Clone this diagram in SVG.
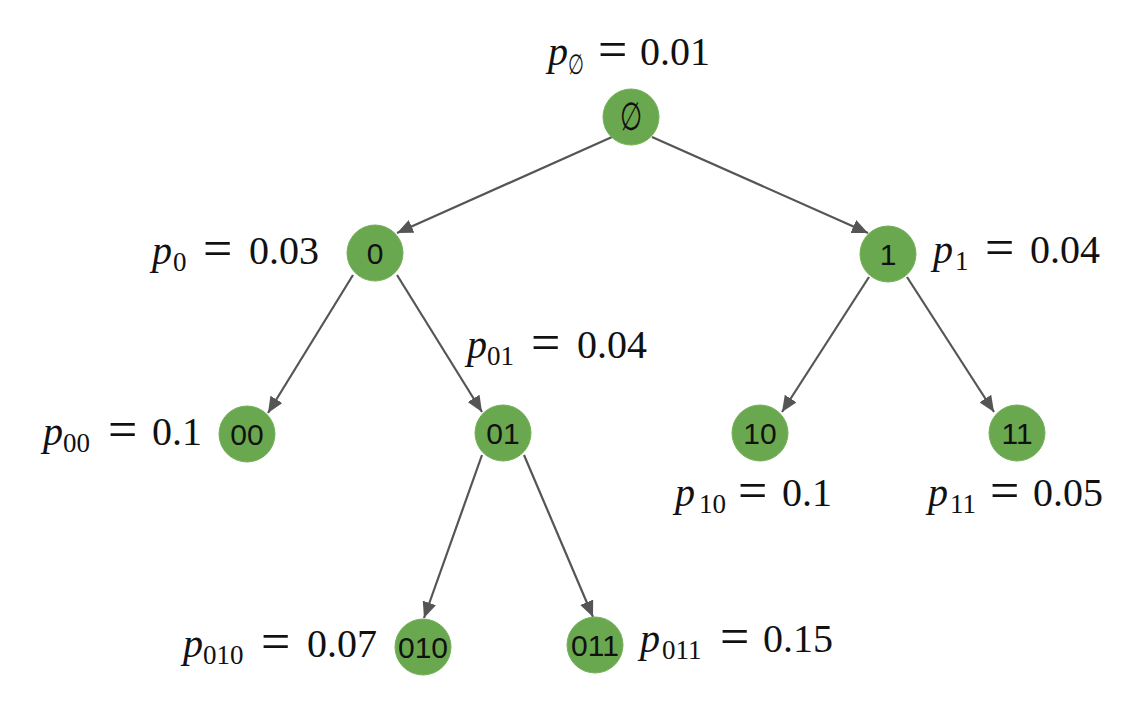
<svg xmlns="http://www.w3.org/2000/svg" width="1140" height="716" viewBox="0 0 1140 716">
<style>
.node{fill:#6aa84f;stroke:#74b05a;stroke-width:1}
.nl{font-family:"Liberation Sans",Arial,sans-serif;font-size:30px;fill:#111;text-anchor:middle}
.lbl{font-family:"Liberation Serif","Times New Roman",serif;font-size:40px;fill:#111}
.it{font-style:italic}
.sub{font-size:27px}
.eq{font-size:52px}
.edge{stroke:#555;stroke-width:2.2;fill:none;marker-end:url(#arr)}
</style>
<defs>
<marker id="arr" markerUnits="userSpaceOnUse" markerWidth="18" markerHeight="14" refX="16" refY="7" orient="auto">
<path d="M0,0 L16,7 L0,14 Z" fill="#555"/>
</marker>
</defs>
<rect width="1140" height="716" fill="#fff"/>
<g id="connectors">
<line class="edge" x1="612" y1="137" x2="397" y2="233"/>
<line class="edge" x1="652" y1="137" x2="868" y2="233"/>
<line class="edge" x1="353" y1="275" x2="268" y2="413"/>
<line class="edge" x1="397" y1="275" x2="482" y2="412"/>
<line class="edge" x1="869" y1="277" x2="782" y2="412"/>
<line class="edge" x1="907" y1="277" x2="994" y2="412"/>
<line class="edge" x1="482" y1="455" x2="424" y2="618"/>
<line class="edge" x1="524" y1="455" x2="593" y2="617"/>
</g>
<g id="n-empty"><circle class="node" cx="631" cy="117" r="28"/><text transform="translate(631,130) scale(0.75,1.15)" x="0" y="0" font-family="'DejaVu Serif',serif" font-size="34" text-anchor="middle" fill="#111">∅</text></g>
<g id="n-0"><circle class="node" cx="375" cy="253" r="28"/><text class="nl" x="375" y="264">0</text></g>
<g id="n-1"><circle class="node" cx="888" cy="254" r="28"/><text class="nl" x="888" y="265">1</text></g>
<g id="n-00"><circle class="node" cx="247" cy="434" r="28"/><text class="nl" x="247" y="445">00</text></g>
<g id="n-01"><circle class="node" cx="503" cy="433" r="28"/><text class="nl" x="503" y="444">01</text></g>
<g id="n-10"><circle class="node" cx="760" cy="433" r="28"/><text class="nl" x="760" y="444">10</text></g>
<g id="n-11"><circle class="node" cx="1017" cy="433" r="28"/><text class="nl" x="1017" y="444">11</text></g>
<g id="n-010"><circle class="node" cx="423" cy="647" r="28"/><text class="nl" x="423" y="658">010</text></g>
<g id="n-011"><circle class="node" cx="595" cy="645" r="28"/><text class="nl" x="595" y="656">011</text></g>
<g id="labels">
<text class="lbl"><tspan class="it" x="548" y="65">p</tspan><tspan class="eq" x="598" y="67">=</tspan><tspan x="640" y="65">0.01</tspan></text>
<text transform="translate(576,74) scale(0.75,1.15)" font-family="'DejaVu Serif',serif" font-size="24" text-anchor="middle" fill="#111">∅</text>
<text class="lbl"><tspan class="it" x="152" y="264">p</tspan><tspan class="sub" x="173" y="271">0</tspan><tspan class="eq" x="203" y="266">=</tspan><tspan x="249" y="264">0.03</tspan></text>
<text class="lbl"><tspan class="it" x="933" y="263">p</tspan><tspan class="sub" x="955" y="270">1</tspan><tspan class="eq" x="985" y="265">=</tspan><tspan x="1030" y="263">0.04</tspan></text>
<text class="lbl"><tspan class="it" x="467" y="358">p</tspan><tspan class="sub" x="487" y="365">01</tspan><tspan class="eq" x="531" y="360">=</tspan><tspan x="577" y="358">0.04</tspan></text>
<text class="lbl"><tspan class="it" x="43" y="445">p</tspan><tspan class="sub" x="63" y="452">00</tspan><tspan class="eq" x="108" y="447">=</tspan><tspan x="152" y="445">0.1</tspan></text>
<text class="lbl"><tspan class="it" x="675" y="506">p</tspan><tspan class="sub" x="699" y="513">10</tspan><tspan class="eq" x="738" y="508">=</tspan><tspan x="782" y="506">0.1</tspan></text>
<text class="lbl"><tspan class="it" x="928" y="506">p</tspan><tspan class="sub" x="950" y="513">11</tspan><tspan class="eq" x="990" y="508">=</tspan><tspan x="1033" y="506">0.05</tspan></text>
<text class="lbl"><tspan class="it" x="183" y="657">p</tspan><tspan class="sub" x="203" y="664">010</tspan><tspan class="eq" x="261" y="659">=</tspan><tspan x="307" y="657">0.07</tspan></text>
<text class="lbl"><tspan class="it" x="640" y="652">p</tspan><tspan class="sub" x="662" y="659">011</tspan><tspan class="eq" x="720" y="654">=</tspan><tspan x="763" y="652">0.15</tspan></text>
</g>
</svg>
